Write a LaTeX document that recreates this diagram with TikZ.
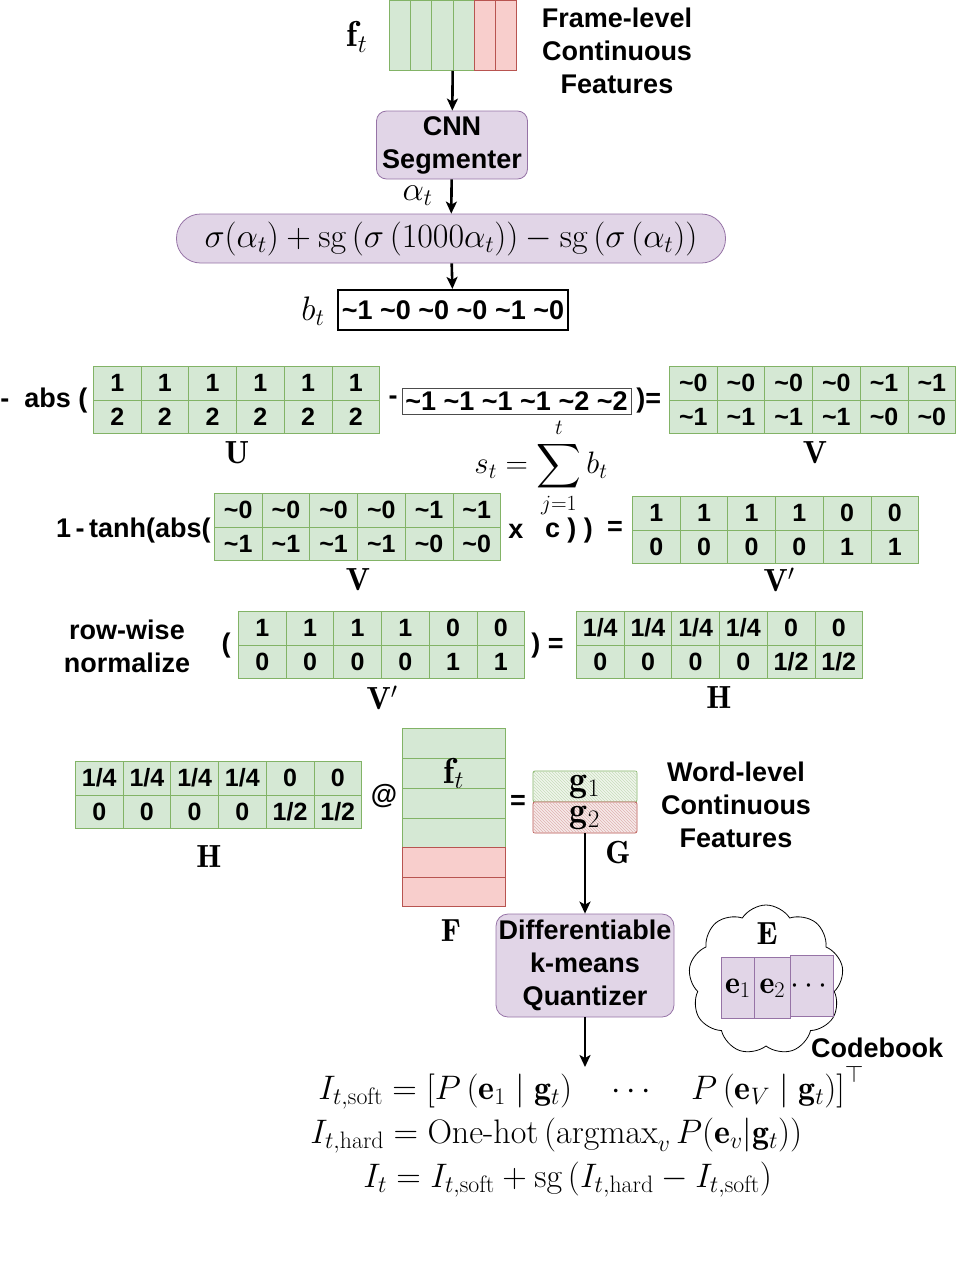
\RequirePackage{fix-cm}
\documentclass[tikz,border=0pt]{standalone}
\usepackage{amsmath}
\usepackage{amsfonts}
\usepackage{fontspec}
\newfontfamily\lsans{Liberation Sans}
\usetikzlibrary{matrix,shapes.symbols,arrows.meta,patterns}

\definecolor{greenfill}{HTML}{D5E8D4}
\definecolor{greenline}{HTML}{82B366}
\definecolor{redfill}{HTML}{F8CECC}
\definecolor{redline}{HTML}{B85450}
\definecolor{purplefill}{HTML}{E1D5E7}
\definecolor{purpleline}{HTML}{9673A6}

\newcommand{\tld}{\textasciitilde}

\begin{document}
\begin{tikzpicture}[x=1pt, y=-1pt, thick,
    arr/.style={-{Stealth[length=12pt,width=11pt,inset=3pt]}, line width=2.6pt},
    txt/.style={font=\lsans\bfseries\fontsize{27}{33}\selectfont, align=center, inner sep=0},
    mth/.style={font=\fontsize{34}{38}\selectfont, inner sep=0},
    lbl/.style={font=\fontsize{32}{34}\selectfont, inner sep=0},
    cell/.style={draw=greenline, fill=greenfill, line width=0.8pt, inner sep=0,
        minimum width=47.7pt, minimum height=33.5pt, font=\lsans\bfseries\fontsize{25}{25}\selectfont},
    mat/.style={matrix of nodes, anchor=north west, inner sep=0, outer sep=0,
        column sep=-0.8pt, row sep=-0.8pt, nodes={cell}},
    redcells/.style={nodes={draw=redline, fill=redfill}},
    proc/.style={draw=purpleline, fill=purplefill, line width=0.8pt, inner sep=2pt,
        rounded corners=10pt, align=center, font=\lsans\bfseries\fontsize{27}{33}\selectfont},
    gbox/.style={draw=#1, fill=#1!12, postaction={pattern=north west lines, pattern color=#1!45},
        minimum width=104pt, minimum height=31pt, inner sep=0, rounded corners=2pt,
        line width=0.8pt, font=\fontsize{36}{36}\selectfont},
    vals/.style={inner sep=0, font=\lsans\bfseries\fontsize{27}{27}\selectfont}]

\useasboundingbox (0,0) rectangle (957,1261);

% frame-level input
\matrix (ft) [mat, nodes in empty cells, nodes={minimum width=21.2pt, minimum height=70pt},
    column 5/.style={redcells}, column 6/.style={redcells}] at (389,0) { & & & & & \\ };
\node[lbl, font=\fontsize{36}{36}\selectfont] (ftl) at (357,37) {$\mathbf{f}_t$};
\node[txt] (frame) at (617,51) {Frame-level\\Continuous\\Features};

\node[proc, minimum width=151pt, minimum height=68pt] (cnn) at (452,145) {CNN\\Segmenter};
\node[mth, anchor=east] (alpha) at (433,196) {$\alpha_t$};
\node[mth, draw=purpleline, fill=purplefill, line width=0.8pt, rounded corners=24pt,
    minimum width=549pt, minimum height=49pt] (sig) at (451,238.5)
    {$\sigma(\alpha_t)+\mathrm{sg}\left(\sigma\left(1000\alpha_t\right)\right)-\mathrm{sg}\left(\sigma\left(\alpha_t\right)\right)$};

\node[vals, draw, line width=2.2pt, minimum width=230pt, minimum height=40pt] (bt) at (453,310)
    {\tld1 \tld0 \tld0 \tld0 \tld1 \tld0};
\node[mth] (btl) at (313,311) {$b_t$};

% U and V
\node[txt, anchor=west] (absl) at (0,401) {-\ \ abs (};
\matrix (U) [mat] at (93,366) {1 & 1 & 1 & 1 & 1 & 1\\ 2 & 2 & 2 & 2 & 2 & 2\\};
\node[lbl] (Ul) at (237,453) {$\mathbf{U}$};
\node[txt] (minus) at (393,400) {-};
\node[vals, draw=black!70, line width=0.8pt, minimum width=229pt, minimum height=26pt] (st) at (516.5,401)
    {\tld1 \tld1 \tld1 \tld1 \tld2 \tld2};
\node[txt, anchor=west] (eqa) at (636,401) {)=};
\matrix (V) [mat] at (669,366) {\tld0 & \tld0 & \tld0 & \tld0 & \tld1 & \tld1\\
    \tld1 & \tld1 & \tld1 & \tld1 & \tld0 & \tld0\\};
\node[lbl] (Vl) at (815,453) {$\mathbf{V}$};
\node[mth, font=\fontsize{31}{31}\selectfont] (sum) at (541,468) {$\displaystyle s_t=\sum_{j=1}^{t} b_t$};

% V'
\node[txt, anchor=east] (tanh) at (211,531) {1\,-\,tanh(abs(};
\matrix (Vb) [mat] at (214,493) {\tld0 & \tld0 & \tld0 & \tld0 & \tld1 & \tld1\\
    \tld1 & \tld1 & \tld1 & \tld1 & \tld0 & \tld0\\};
\node[lbl] (Vbl) at (358,580) {$\mathbf{V}$};
\node[txt] (times) at (516,531) {x};
\node[txt] (cpar) at (569,531) {c ) )};
\node[txt] (eqb) at (615,528) {=};
\matrix (Vp) [mat] at (632,496) {1 & 1 & 1 & 1 & 0 & 0\\ 0 & 0 & 0 & 0 & 1 & 1\\};
\node[lbl] (Vpl) at (779,580) {$\mathbf{V}'$};

% H
\node[txt] (norm) at (127,646) {row-wise\\normalize};
\node[txt] (lpar) at (226,646) {(};
\matrix (Vq) [mat] at (238,611) {1 & 1 & 1 & 1 & 0 & 0\\ 0 & 0 & 0 & 0 & 1 & 1\\};
\node[lbl] (Vql) at (382,698) {$\mathbf{V}'$};
\node[txt, anchor=west] (eqc) at (531,646) {) =};
\matrix (H) [mat] at (576,611) {1/4 & 1/4 & 1/4 & 1/4 & 0 & 0\\ 0 & 0 & 0 & 0 & 1/2 & 1/2\\};
\node[lbl] (Hl) at (719,698) {$\mathbf{H}$};

% G = H @ F
\matrix (Hb) [mat] at (75,761) {1/4 & 1/4 & 1/4 & 1/4 & 0 & 0\\ 0 & 0 & 0 & 0 & 1/2 & 1/2\\};
\node[lbl] (Hbl) at (209,857) {$\mathbf{H}$};
\node[txt] (atop) at (384,796) {@};
\matrix (F) [mat, nodes in empty cells, nodes={minimum width=103pt, minimum height=29.5pt},
    row 5/.style={redcells}, row 6/.style={redcells}] at (402,728)
    { \\ |[font=\fontsize{36}{36}\selectfont]| $\mathbf{f}_t$ \\ \\ \\ \\ \\};
\node[lbl] (Fl) at (451,931) {$\mathbf{F}$};
\node[txt] (eqd) at (518,802) {=};
\node[gbox=greenline] (g1) at (585,786.5) {$\mathbf{g}_1$};
\node[gbox=redline] (g2) at (585,817.5) {$\mathbf{g}_2$};
\node[lbl] (Gl) at (618,853) {$\mathbf{G}$};
\node[txt] (word) at (736,805) {Word-level\\Continuous\\Features};

% quantizer and codebook
\node[proc, minimum width=178pt, minimum height=103pt, rounded corners=12pt] (quant) at (585,965.5)
    {Differentiable\\k-means\\Quantizer};
\node[cloud, draw, cloud puffs=9, cloud puff arc=115, line width=0.8pt,
    minimum width=155pt, minimum height=150pt, inner sep=0] (cb) at (766,980) {};
\node[lbl] (El) at (767,934) {$\mathbf{E}$};
\matrix (Ec) [mat, nodes={draw=purpleline, fill=purplefill, minimum height=61pt,
    font=\fontsize{32}{32}\selectfont},
    column 1/.style={nodes={minimum width=33pt}}, column 2/.style={nodes={minimum width=36pt}},
    column 3/.style={nodes={minimum width=40pt}}] at (721,955)
    {$\mathbf{e}_1$ & $\mathbf{e}_2$ & $\cdots$\\};
\node[txt] (cbl) at (877,1048) {Codebook};

% outputs
\coordinate (eqtop) at (585,1067);
\node[mth, anchor=base west] (isoft) at (318,1099)
    {$I_{t,\text{soft}}=\left[P\left(\mathbf{e}_1\mid\mathbf{g}_t\right)\quad\cdots\quad P\left(\mathbf{e}_V\mid\mathbf{g}_t\right)\right]^\top$};
\node[mth, anchor=base west] (ihard) at (310,1143)
    {$I_{t,\text{hard}}=\text{One-hot}\left(\operatorname{argmax}_v P(\mathbf{e}_v|\mathbf{g}_t)\right)$};
\node[mth, anchor=base west] (ifinal) at (363,1187)
    {$I_t=I_{t,\text{soft}}+\mathrm{sg}\left(I_{t,\text{hard}}-I_{t,\text{soft}}\right)$};

\path
(ft) edge [arr] (cnn)
(cnn) edge [arr] (sig)
(sig) edge [arr] (bt)
(g2) edge [arr] (quant)
(quant) edge [arr] (eqtop);

\end{tikzpicture}
\end{document}
